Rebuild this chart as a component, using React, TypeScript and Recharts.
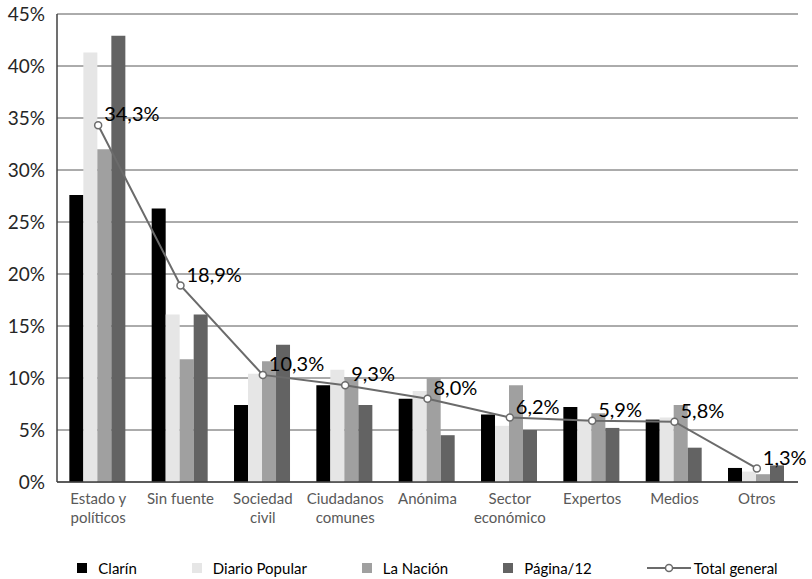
import React from 'react';
import {
  ComposedChart,
  Bar,
  Line,
  XAxis,
  YAxis,
  CartesianGrid,
  Legend,
} from 'recharts';

const categories = [
  'Estado y\npolíticos',
  'Sin fuente',
  'Sociedad\ncivil',
  'Ciudadanos\ncomunes',
  'Anónima',
  'Sector\neconómico',
  'Expertos',
  'Medios',
  'Otros',
];

const clarin = [27.6, 26.3, 7.4, 9.3, 8.0, 6.5, 7.2, 6.0, 1.35];
const diarioPopular = [41.3, 16.1, 10.4, 10.8, 8.75, 5.4, 6.0, 6.2, 1.0];
const laNacion = [32.0, 11.8, 11.6, 10.1, 10.0, 9.3, 6.6, 7.4, 0.75];
const pagina12 = [42.9, 16.1, 13.2, 7.4, 4.5, 5.0, 5.2, 3.3, 1.6];
const totalGeneral = [34.3, 18.9, 10.3, 9.3, 8.0, 6.2, 5.9, 5.8, 1.3];

const yTicks = [0, 5, 10, 15, 20, 25, 30, 35, 40, 45];

const series = [
  { key: 'clarin', name: 'Clarín', color: '#000000' },
  { key: 'diarioPopular', name: 'Diario Popular', color: '#e6e6e6' },
  { key: 'laNacion', name: 'La Nación', color: '#a0a0a0' },
  { key: 'pagina12', name: 'Página/12', color: '#636363' },
];

const data = categories.map((name, i) => ({
  name,
  clarin: clarin[i],
  diarioPopular: diarioPopular[i],
  laNacion: laNacion[i],
  pagina12: pagina12[i],
  total: totalGeneral[i],
}));

const FONT = 'Lato, "Noto Sans", sans-serif';

const fmt = (v: number) => v.toFixed(1).replace('.', ',') + '%';

function CategoryTick(props: any) {
  const { x, y, payload } = props;
  const lines = String(payload.value).split('\n');
  return (
    <text x={x} y={y} textAnchor="middle" fill="#595959" fontSize={15} fontFamily={FONT}>
      {lines.map((l: string, i: number) => (
        <tspan key={i} x={x} dy={i === 0 ? 14 : 19}>
          {l}
        </tspan>
      ))}
    </text>
  );
}

function TotalLabel(props: any) {
  const { x, y, value } = props;
  return (
    <text x={x + 6} y={y - 9} fill="#000" fontSize={20} fontFamily={FONT} dominantBaseline="middle">
      {fmt(value)}
    </text>
  );
}

function LegendContent() {
  return (
    <div
      style={{
        display: 'flex',
        justifyContent: 'center',
        alignItems: 'center',
        gap: 55,
        fontFamily: FONT,
        fontSize: 15,
        color: '#000',
      }}
    >
      {series.map((s) => (
        <div key={s.key} style={{ display: 'flex', alignItems: 'center' }}>
          <span style={{ width: 10, height: 10, background: s.color, display: 'inline-block', marginRight: 11 }} />
          <span>{s.name}</span>
        </div>
      ))}
      <div style={{ display: 'flex', alignItems: 'center' }}>
        <svg width={44} height={10} style={{ marginRight: 3 }}>
          <line x1={0} y1={5} x2={44} y2={5} stroke="#6b6b6b" strokeWidth={2} />
          <circle cx={22} cy={5} r={3.5} fill="#fff" stroke="#6b6b6b" strokeWidth={1.5} />
        </svg>
        <span>Total general</span>
      </div>
    </div>
  );
}

export default function App() {
  return (
    <div style={{ position: 'absolute', left: 0, top: 0, background: '#fff' }}>
      <ComposedChart
        width={812}
        height={579}
        data={data}
        margin={{ top: 14, right: 14, left: 0, bottom: 0 }}
        barCategoryGap="15%"
        barGap={0}
      >
        <CartesianGrid vertical={false} stroke="#595959" strokeWidth={1} />
        <XAxis
          dataKey="name"
          interval={0}
          tick={<CategoryTick />}
          tickLine={false}
          axisLine={{ stroke: '#404040', strokeWidth: 1.5 }}
          height={77}
        />
        <YAxis
          domain={[0, 45]}
          ticks={yTicks}
          width={57}
          tickFormatter={(v: number) => `${v}%`}
          tick={{ fontSize: 19, fill: '#262626', fontFamily: FONT }}
          tickLine={false}
          tickMargin={6}
          axisLine={{ stroke: '#404040', strokeWidth: 1.5 }}
        />
        {series.map((s) => (
          <Bar key={s.key} dataKey={s.key} name={s.name} fill={s.color} isAnimationActive={false} />
        ))}
        <Line
          dataKey="total"
          name="Total general"
          stroke="#6b6b6b"
          strokeWidth={2}
          dot={{ r: 3.5, fill: '#fff', stroke: '#6b6b6b', strokeWidth: 1.5 }}
          activeDot={false}
          label={<TotalLabel />}
          isAnimationActive={false}
        />
        <Legend
          verticalAlign="bottom"
          content={<LegendContent />}
          wrapperStyle={{ left: 57, width: 741, bottom: 0, height: 20 }}
        />
      </ComposedChart>
    </div>
  );
}
